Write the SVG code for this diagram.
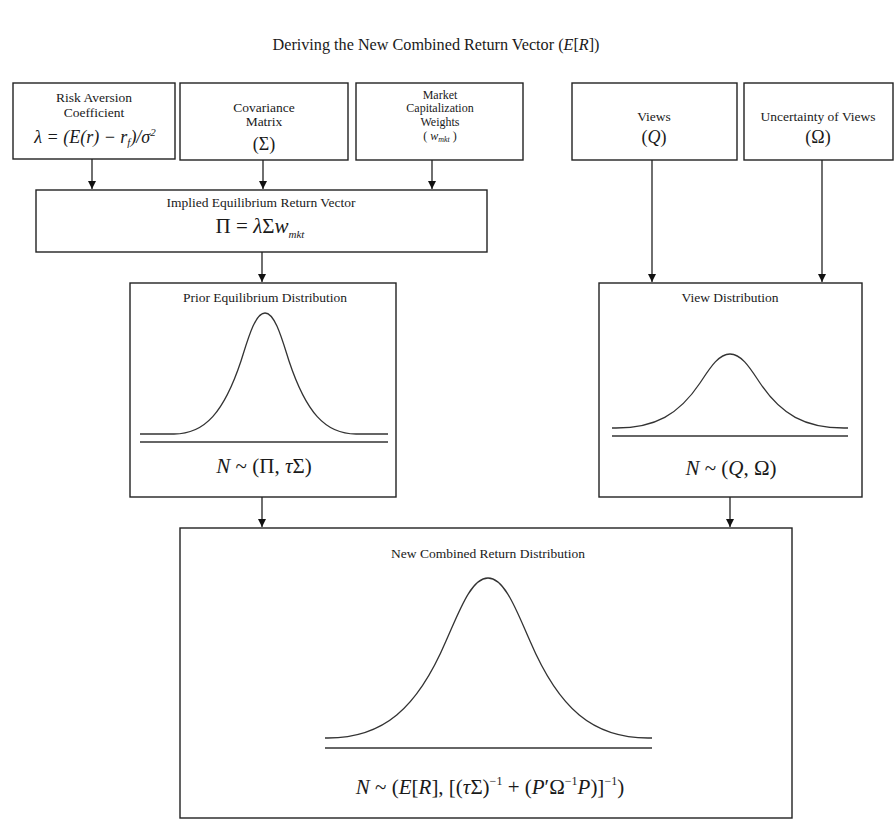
<svg xmlns="http://www.w3.org/2000/svg" width="895" height="828" viewBox="0 0 895 828">
<defs>
<style>
text{font-family:"Liberation Serif","Times New Roman",serif;fill:#1a1a1a;}
.t{font-size:16.2px;}
.s{font-size:13.5px;text-anchor:middle;}
.k{font-size:12px;text-anchor:middle;}
.m{font-size:18px;text-anchor:middle;}
.n{font-size:21px;text-anchor:middle;}
.i{font-style:italic;}
.box{fill:#fff;stroke:#222;stroke-width:1.4;}
.cv{fill:none;stroke:#333;stroke-width:1.3;}
.ln{stroke:#333;stroke-width:1.5;}
.ar{stroke:#222;stroke-width:1.3;fill:none;marker-end:url(#ah);}
</style>
<marker id="ah" markerWidth="10" markerHeight="10" refX="8" refY="4" orient="auto" markerUnits="userSpaceOnUse">
<path d="M0,0 L8,4 L0,8 Z" fill="#111"/>
</marker>
</defs>
<rect width="895" height="828" fill="#fff"/>
<text class="t" x="436" y="50" text-anchor="middle">Deriving the New Combined Return Vector (<tspan class="i">E</tspan>[<tspan class="i">R</tspan>])</text>

<g id="connectors">
<line class="ar" x1="92" y1="159" x2="92" y2="189"/>
<line class="ar" x1="263" y1="160" x2="263" y2="189"/>
<line class="ar" x1="432" y1="160" x2="432" y2="189"/>
<line class="ar" x1="262" y1="252" x2="262" y2="282"/>
<line class="ar" x1="652" y1="160" x2="652" y2="282"/>
<line class="ar" x1="822" y1="160" x2="822" y2="282"/>
<line class="ar" x1="262" y1="497" x2="262" y2="527"/>
<line class="ar" x1="730" y1="497" x2="730" y2="527"/>
</g>

<g id="risk">
<rect class="box" x="13" y="83" width="162" height="76"/>
<text class="s" x="94" y="102">Risk Aversion</text>
<text class="s" x="94" y="117">Coefficient</text>
<text class="i" x="95" y="143" font-size="18" text-anchor="middle">λ = (E(r) − r<tspan font-size="11" dy="3">f</tspan><tspan dy="-3">)/σ</tspan><tspan font-size="11" dy="-7">2</tspan></text>
</g>

<g id="covariance">
<rect class="box" x="180" y="83" width="168" height="77"/>
<text class="s" x="264" y="112">Covariance</text>
<text class="s" x="264" y="126">Matrix</text>
<text class="m" x="264" y="150">(Σ)</text>
</g>

<g id="market">
<rect class="box" x="356" y="83" width="167" height="77"/>
<text class="k" x="440" y="99">Market</text>
<text class="k" x="440" y="112">Capitalization</text>
<text class="k" x="440" y="126">Weights</text>
<text class="k" x="440" y="140" font-size="13">( <tspan class="i">w</tspan><tspan class="i" font-size="8" dy="2">mkt</tspan><tspan dy="-2"> )</tspan></text>
</g>

<g id="views">
<rect class="box" x="572" y="83" width="165" height="77"/>
<text class="s" x="654" y="121">Views</text>
<text class="m" x="654" y="143">(<tspan class="i">Q</tspan>)</text>
</g>

<g id="uncertainty">
<rect class="box" x="744" y="83" width="149" height="77"/>
<text class="s" x="818" y="121">Uncertainty of Views</text>
<text class="m" x="818" y="143">(Ω)</text>
</g>

<g id="implied">
<rect class="box" x="36" y="190" width="451" height="62"/>
<text class="s" x="261" y="207">Implied Equilibrium Return Vector</text>
<text class="n" x="260" y="233">Π = <tspan class="i">λ</tspan>Σ<tspan class="i">w</tspan><tspan class="i" font-size="11" dy="5">mkt</tspan></text>
</g>

<g id="prior">
<rect class="box" x="130" y="283" width="266" height="214"/>
<text class="s" x="265" y="302">Prior Equilibrium Distribution</text>
<path class="cv" d="M140 434 L174 434 C205 434 224 412 241 361 C248 339 255 313 265 313 C275 313 282 339 289 361 C306 412 325 434 356 434 L388 434"/>
<line class="ln" x1="140" y1="442" x2="388" y2="442"/>
<text class="n" x="264" y="473"><tspan class="i">N</tspan> ~ (Π, <tspan class="i">τ</tspan>Σ)</text>
</g>

<g id="view">
<rect class="box" x="599" y="283" width="263" height="214"/>
<text class="s" x="730" y="302">View Distribution</text>
<path class="cv" d="M612 428 L616 428 C655 428 679 414.5 700 383 C709 369.6 718 354 730 354 C742 354 751 369.6 760 383 C781 414.5 805 428 844 428 L848 428"/>
<line class="ln" x1="612" y1="436" x2="848" y2="436"/>
<text class="n" x="731" y="475"><tspan class="i">N</tspan> ~ (<tspan class="i">Q</tspan>, Ω)</text>
</g>

<g id="combined">
<rect class="box" x="180" y="528" width="612" height="290"/>
<text class="s" x="488" y="558">New Combined Return Distribution</text>
<path class="cv" d="M325 738 L328 738 C383 738 417 709 446 641 C459 612 471 578 488 578 C505 578 517 612 530 641 C559 709 593 738 648 738 L652 738"/>
<line class="ln" x1="325" y1="748" x2="652" y2="748"/>
<text class="n" x="490" y="794"><tspan class="i">N</tspan> ~ (<tspan class="i">E</tspan>[<tspan class="i">R</tspan>], [(<tspan class="i">τ</tspan>Σ)<tspan font-size="12" dy="-9">−1</tspan><tspan dy="9"> + (</tspan><tspan class="i">P</tspan>′Ω<tspan font-size="12" dy="-9">−1</tspan><tspan class="i" dy="9">P</tspan>)]<tspan font-size="12" dy="-9">−1</tspan><tspan dy="9">)</tspan></text>
</g>
</svg>
